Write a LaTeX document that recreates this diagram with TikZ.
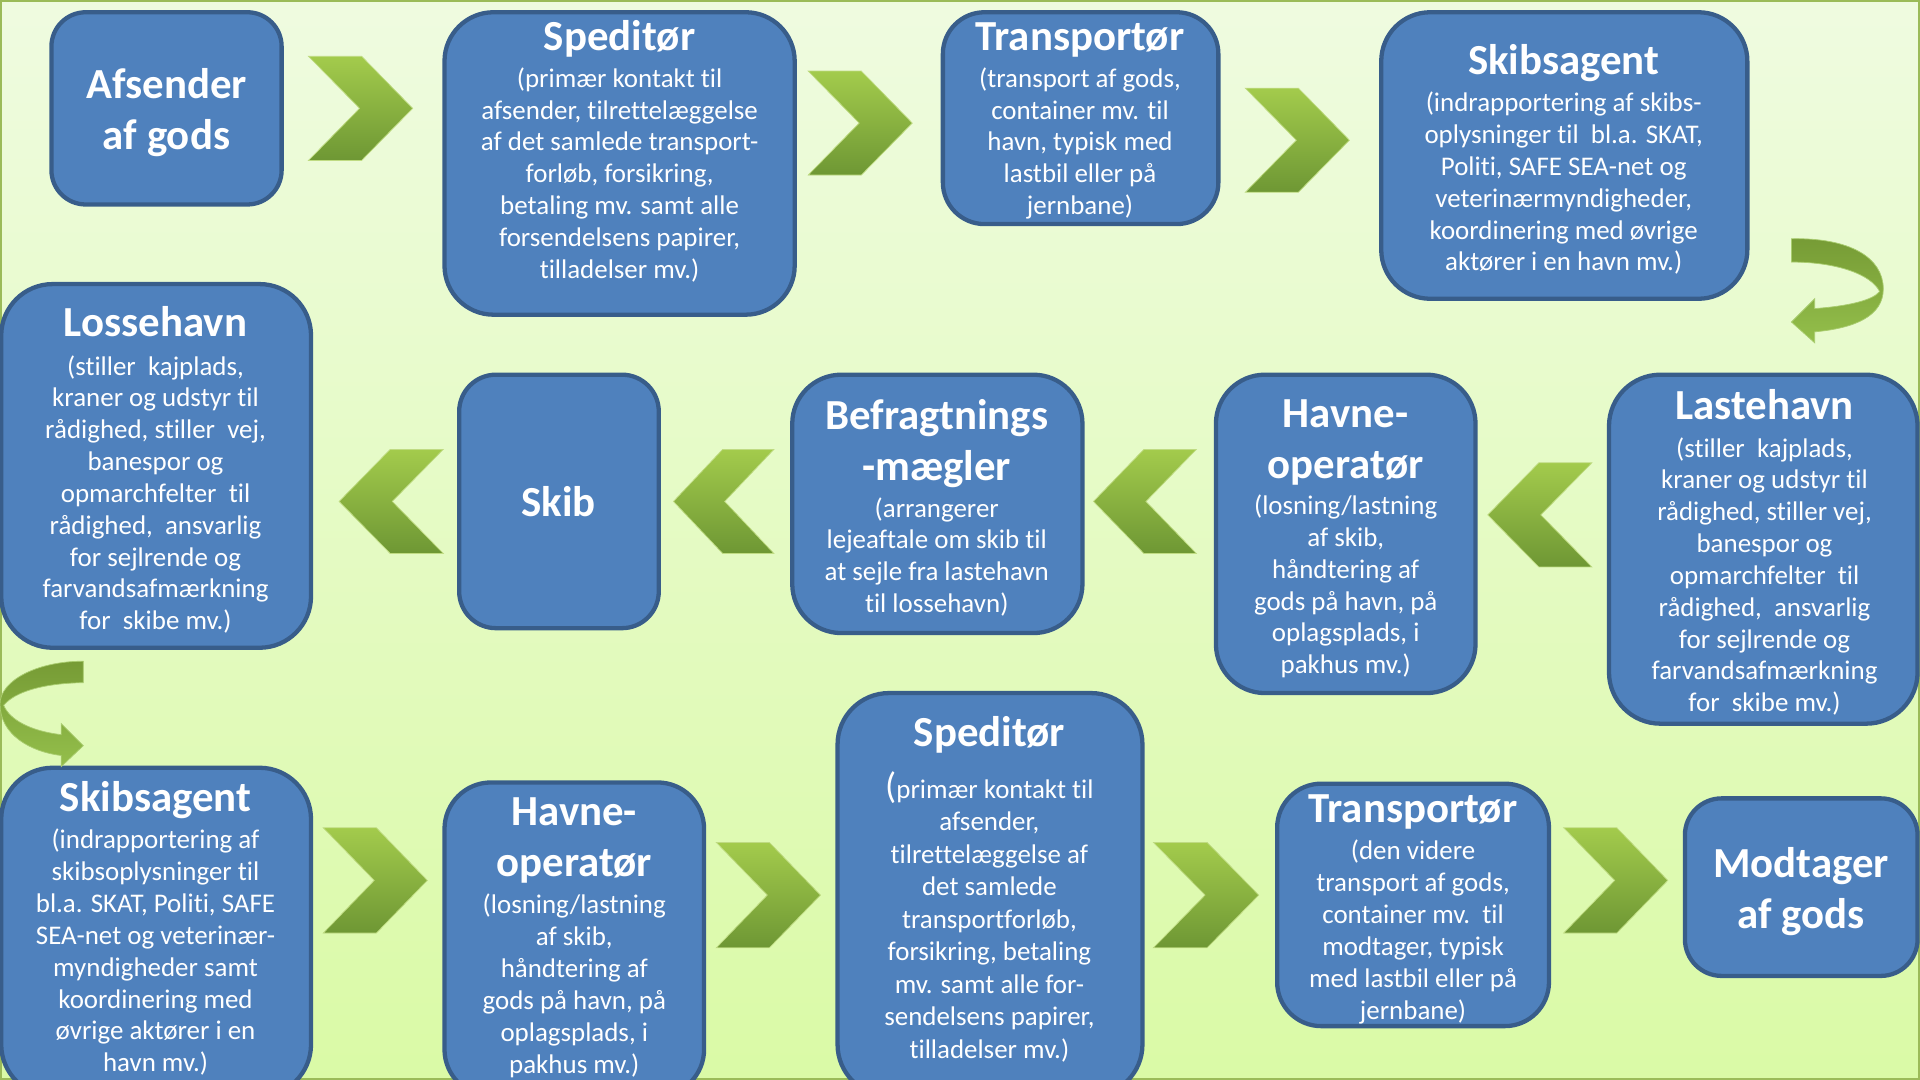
\documentclass[tikz,border=0pt]{standalone}
\usepackage{fontspec}
\setmainfont[Ligatures=NoCommon]{Carlito}
\definecolor{bxfill}{HTML}{4F81BD}
\definecolor{bxline}{HTML}{385D8A}
\definecolor{bgtop}{HTML}{EFFBE0}
\definecolor{bgbot}{HTML}{DAFAA6}
\definecolor{chtop}{HTML}{A3CB4C}
\definecolor{chbot}{HTML}{6E9734}
\definecolor{frm}{HTML}{9BBB59}
\definecolor{utop}{HTML}{769B35}
\definecolor{ubot}{HTML}{94BF4B}
\tikzset{
 box/.style={draw=bxline, line width=3.5pt, fill=bxfill, inner sep=0pt, outer sep=0pt},
 ttl/.style={text=white, font=\fontsize{35}{38}\selectfont\bfseries, inner sep=0pt, anchor=base},
 big/.style={text=white, font=\fontsize{35}{42}\selectfont\bfseries, inner sep=0pt, align=center},
 body/.style={text=white, font=\fontsize{22}{26}\selectfont, inner sep=0pt, anchor=north, align=center},
 chev/.style={top color=chtop, bottom color=chbot, draw=chtop!70!white, line width=0.6pt},
 uturn/.style={top color=utop, bottom color=ubot, draw=ubot!80!white, line width=0.6pt},
}
\newcommand\bx[6]{\node[box, rounded corners=#6, minimum width={#4-#2}, minimum height={#5-#3}] (#1) at ({(#2+#4)/2},{(#3+#5)/2}) {};}
\newcommand\chevR[4]{\path[chev] (#1,#2) -- ({#1+0.51*(#3-#1)},#2) -- (#3,{(#2+#4)/2}) -- ({#1+0.51*(#3-#1)},#4) -- (#1,#4) -- ({#1+0.49*(#3-#1)},{(#2+#4)/2}) -- cycle;}
\newcommand\chevL[4]{\path[chev] (#3,#2) -- ({#3-0.51*(#3-#1)},#2) -- (#1,{(#2+#4)/2}) -- ({#3-0.51*(#3-#1)},#4) -- (#3,#4) -- ({#3-0.49*(#3-#1)},{(#2+#4)/2}) -- cycle;}
\begin{document}
\begin{tikzpicture}[x=1pt, y=-1pt]
\useasboundingbox (0,0) rectangle (1568,882);
\clip (0,0) rectangle (1568,882);
\shade[top color=bgtop, bottom color=bgbot] (0,0) rectangle (1568,882);
\draw[frm, line width=2pt] (1,1) rectangle (1567,881);

% row 1
\bx{afs}{42}{10}{230}{167}{28}
\node[big] (afst) at (136,92) {Afsender\\af gods};
\bx{spa}{363}{10}{649}{257}{40}
\node[ttl] (spat) at (506,41) {Speditør};
\node[body] (spab) at (506,55) {(primær kontakt til\\afsender, tilrettelæggelse\\af det samlede transport-\\forløb, forsikring,\\betaling mv. samt alle\\forsendelsens papirer,\\tilladelser mv.)};
\bx{tra}{770}{10}{995}{183}{34}
\node[ttl] (trat) at (882,41) {Transportør};
\node[body] (trab) at (882,55) {(transport af gods,\\container mv. til\\havn, typisk med\\lastbil eller på\\jernbane)};
\bx{ska}{1128}{10}{1427}{244}{40}
\node[ttl] (skat) at (1277,61) {Skibsagent};
\node[body] (skab) at (1277,75) {(indrapportering af skibs-\\oplysninger til\ \ bl.a. SKAT,\\Politi, SAFE SEA-net og\\veterinærmyndigheder,\\koordinering med øvrige\\aktører i en havn mv.)};

% row 2
\bx{los}{1}{232}{254}{529}{42}
\node[ttl] (lost) at (127,275) {Lossehavn};
\node[body] (losb) at (127,290) {(stiller\ \ kajplads,\\kraner og udstyr til\\rådighed, stiller\ \ vej,\\banespor og\\opmarchfelter\ \ til\\rådighed,\ \ ansvarlig\\for sejlrende og\\farvandsafmærkning\\for\ \ skibe mv.)};
\bx{skib}{375}{306}{538}{513}{30}
\node[big] (skibt) at (456,410) {Skib};
\bx{bef}{647}{306}{884}{517}{40}
\node[ttl] (beft1) at (765,351) {Befragtnings};
\node[ttl] (beft2) at (765,392) {-mægler};
\node[body] (befb) at (765,406) {(arrangerer\\lejeaftale om skib til\\at sejle fra lastehavn\\til lossehavn)};
\bx{hva}{993}{306}{1205}{566}{40}
\node[ttl] (hvat1) at (1099,349) {Havne-};
\node[ttl] (hvat2) at (1099,391) {operatør};
\node[body] (hvab) at (1099,404) {(losning/lastning\\af skib,\\håndtering af\\gods på havn, på\\oplagsplads, i\\pakhus mv.)};
\bx{las}{1314}{306}{1566}{591}{42}
\node[ttl] (last) at (1441,343) {Lastehavn};
\node[body] (lasb) at (1441,357) {(stiller\ \ kajplads,\\kraner og udstyr til\\rådighed, stiller vej,\\banespor og\\opmarchfelter\ \ til\\rådighed,\ \ ansvarlig\\for sejlrende og\\farvandsafmærkning\\for\ \ skibe mv.)};

% row 3
\bx{skb}{1}{627}{254}{895}{42}
\node[ttl] (skbt) at (127,663) {Skibsagent};
\node[body] (skbb) at (127,677) {(indrapportering af\\skibsoplysninger til\\bl.a. SKAT, Politi, SAFE\\SEA-net og veterinær-\\myndigheder samt\\koordinering med\\øvrige aktører i en\\havn mv.)};
\bx{hvb}{363}{639}{575}{895}{38}
\node[ttl] (hvbt1) at (469,674) {Havne-};
\node[ttl] (hvbt2) at (469,716) {operatør};
\node[body] (hvbb) at (469,730) {(losning/lastning\\af skib,\\håndtering af\\gods på havn, på\\oplagsplads, i\\pakhus mv.)};
\bx{spb}{684}{566}{933}{895}{42}
\node[ttl] (spbt) at (808,610) {Speditør};
\node[body, font=\fontsize{22}{26.5}\selectfont] (spbb) at (808,630) {{\fontsize{30}{30}\selectfont(}primær kontakt til\\afsender,\\tilrettelæggelse af\\det samlede\\transportforløb,\\forsikring, betaling\\mv. samt alle for-\\sendelsens papirer,\\tilladelser mv.)};
\bx{trb}{1043}{640}{1265}{838}{36}
\node[ttl] (trbt) at (1154,672) {Transportør};
\node[body] (trbb) at (1154,686) {(den videre\\transport af gods,\\container mv.\ \ til\\modtager, typisk\\med lastbil eller på\\jernbane)};
\bx{mod}{1376}{652}{1566}{797}{30}
\node[big] (modt) at (1471,728) {Modtager\\af gods};

% chevrons
\chevR{252}{46}{337}{131}
\chevR{660}{58}{745}{143}
\chevR{1017}{72}{1102}{157}
\chevL{277}{367}{362}{452}
\chevL{550}{367}{632}{452}
\chevL{893}{367}{977}{452}
\chevL{1215}{378}{1300}{463}
\chevR{264}{676}{349}{762}
\chevR{585}{688}{670}{774}
\chevR{942}{688}{1028}{774}
\chevR{1277}{676}{1362}{762}

% u-turn arrows
\path[uturn] (1463,195) .. controls (1510,194) and (1538,210) .. (1538,236) .. controls (1538,258) and (1515,268) .. (1482,271) -- (1482,280) -- (1463,263) -- (1482,244) -- (1482,252) .. controls (1510,250) and (1530,245) .. (1535,238) .. controls (1528,224) and (1500,214) .. (1463,214) -- cycle;
\path[uturn] (68,540) .. controls (30,540) and (0,556) .. (0,575) .. controls (0,600) and (25,614) .. (50,617) -- (50,626) -- (68,609) -- (50,591) -- (50,600) .. controls (25,597) and (8,588) .. (3,576) .. controls (12,565) and (35,558) .. (68,557.5) -- cycle;
\end{tikzpicture}
\end{document}
